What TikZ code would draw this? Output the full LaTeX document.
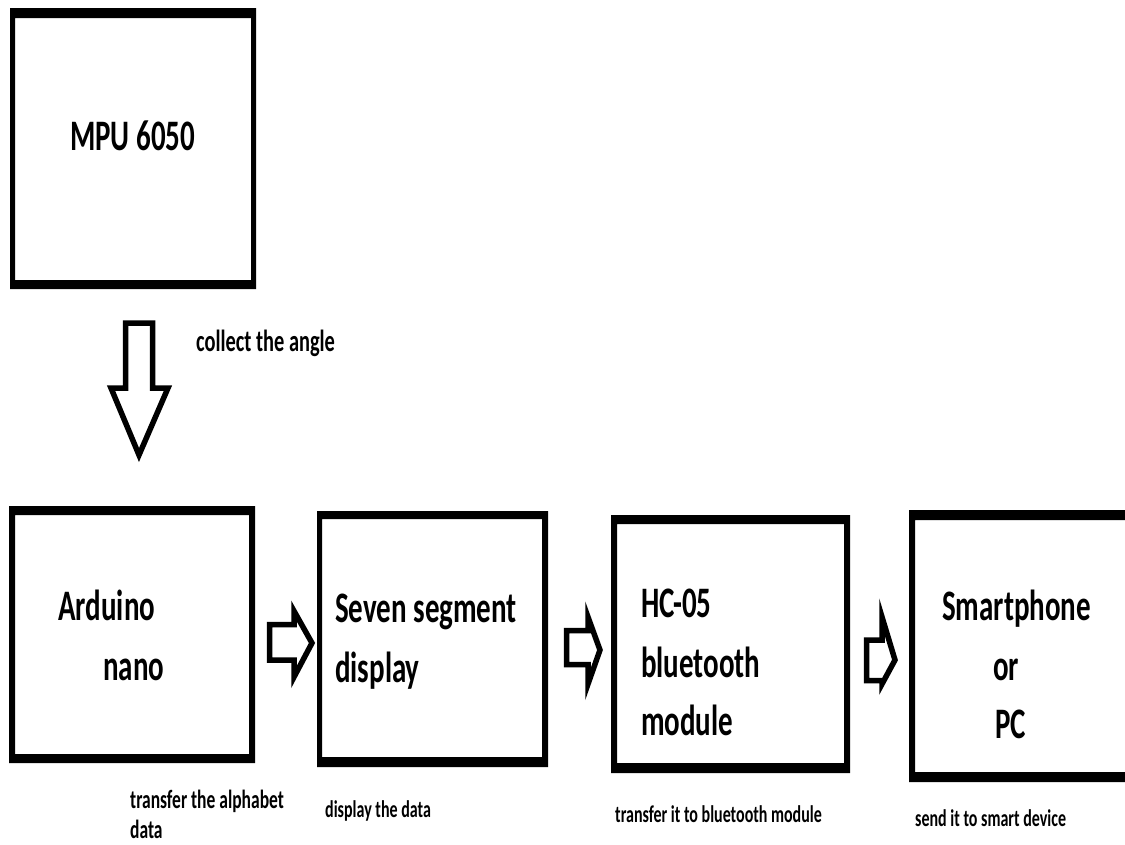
\documentclass[tikz,border=0pt]{standalone}
\usepackage{graphicx}
\usepackage{fontspec}
\setmainfont{Carlito}
\newcommand{\tall}[1]{\scalebox{1}[1.5]{#1}}
\tikzset{
  frame/.style={fill=black, even odd rule},
  blockarrow/.style={draw=black, line width=5.5pt, miter limit=10, line join=miter, fill=white},
  bigtxt/.style={anchor=base west, inner sep=0pt, font=\fontsize{29}{29}\selectfont\bfseries},
  smalltxt/.style={anchor=base west, inner sep=0pt, font=\fontsize{16}{16}\selectfont\bfseries},
}
\begin{document}
\begin{tikzpicture}[x=1pt, y=-1pt]
\useasboundingbox[fill=white] (0,0) rectangle (1125,844);
% boxes
\fill[frame] (10,8) rectangle (256,289) (15,18) rectangle (251,280);
\fill[frame] (9,506) rectangle (255,763) (15,515) rectangle (249,754);
\fill[frame] (317,511) rectangle (548,767) (322,519) rectangle (542,757);
\fill[frame] (611,515) rectangle (850,773) (617,524) rectangle (844,763);
\fill[frame] (909,510) rectangle (1131,782) (915,520) rectangle (1131,772);
% block arrows
\draw[blockarrow] (125.5,323) -- (152.5,323) -- (152.5,388) -- (168,388) -- (139,455) -- (111,388) -- (125.5,388) -- cycle;
\draw[blockarrow] (269.5,624.5) -- (294,624.5) -- (294,611) -- (312,643) -- (294,677) -- (294,660) -- (269.5,660) -- cycle;
\draw[blockarrow] (566.5,630.5) -- (588,630.5) -- (588,617) -- (600,650) -- (588,684) -- (588,664.5) -- (566.5,664.5) -- cycle;
\draw[blockarrow] (866.5,640) -- (882,640) -- (882,617) -- (895,660) -- (882,684) -- (882,680.5) -- (866.5,680.5) -- cycle;
% texts
\node[bigtxt] (mpu) at (70,150) {\tall{MPU 6050}};
\node[anchor=base west, inner sep=0pt, font=\fontsize{20.4}{20}\selectfont\bfseries] (collect) at (196,351) {\tall{collect the angle}};
\node[bigtxt] (ard1) at (58,620) {\tall{Arduino}};
\node[bigtxt] (ard2) at (103,680) {\tall{nano}};
\node[bigtxt] (sev1) at (335,622) {\tall{Seven segment}};
\node[bigtxt] (sev2) at (335,682) {\tall{display}};
\node[bigtxt] (hc1) at (641,617) {\tall{HC-05}};
\node[bigtxt] (hc2) at (641,677) {\tall{bluetooth}};
\node[bigtxt] (hc3) at (641,735) {\tall{module}};
\node[bigtxt] (sm1) at (942,620) {\tall{Smartphone}};
\node[bigtxt] (sm2) at (993,680) {\tall{or}};
\node[bigtxt] (sm3) at (995,738) {\tall{PC}};
\node[anchor=base west, inner sep=0pt, font=\fontsize{17.5}{17.5}\selectfont\bfseries] (l1a) at (130,808) {\tall{transfer the alphabet}};
\node[anchor=base west, inner sep=0pt, font=\fontsize{17.5}{17.5}\selectfont\bfseries] (l1b) at (130,838) {\tall{data}};
\node[smalltxt] (l2) at (325,817) {\tall{display the data}};
\node[smalltxt] (l3) at (615,822) {\tall{transfer it to bluetooth module}};
\node[smalltxt] (l4) at (915,826) {\tall{send it to smart device}};
\end{tikzpicture}
\end{document}
